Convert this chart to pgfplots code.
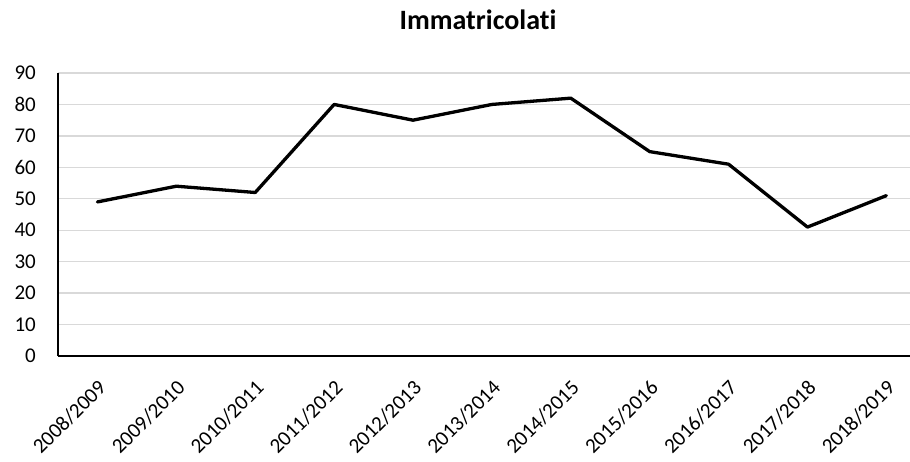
\documentclass[border=0pt]{standalone}
\usepackage{fontspec}
\setmainfont[RawFeature={-liga}]{Carlito}
\usepackage{pgfplots}
\pgfplotsset{compat=1.18}
\definecolor{gridgray}{HTML}{D9D9D9}
\begin{document}
\begin{tikzpicture}
\path[use as bounding box] (-58pt,-105pt) rectangle (852pt,356pt);
\begin{axis}[
  at={(0pt,0pt)}, anchor=south west,
  scale only axis,
  width=852pt, height=283pt,
  xmin=-0.5, xmax=10.3,
  ymin=0, ymax=90,
  ytick={0,10,...,90},
  xtick={0,...,10},
  xticklabels={2008/2009,2009/2010,2010/2011,2011/2012,2012/2013,2013/2014,2014/2015,2015/2016,2016/2017,2017/2018,2018/2019},
  axis x line*=bottom, axis y line*=left,
  x axis line style={-, line width=1.6pt, black},
  y axis line style={-, line width=1.3pt, black},
  major tick length=0pt,
  ymajorgrids, grid style={gridgray, line width=1.4pt},
  /pgf/number format/assume math mode=true,
  tick label style={font=\fontsize{21}{24}\selectfont},
  yticklabel style={anchor=east, inner sep=0pt, xshift=-22pt},
  xticklabel style={inner sep=0pt, xshift=5pt, yshift=-28pt, rotate=45, anchor=east},
  title={Immatricolati},
  title style={at={(0.493,1.134)}, anchor=base, inner sep=0pt, font=\bfseries\fontsize{28}{32}\selectfont},
]
\addplot[black, line width=3.3pt, line join=round, line cap=round] coordinates {
(0,49) (1,54) (2,52) (3,80) (4,75) (5,80) (6,82) (7,65) (8,61) (9,41) (10,51)
};
\end{axis}
\end{tikzpicture}
\end{document}
